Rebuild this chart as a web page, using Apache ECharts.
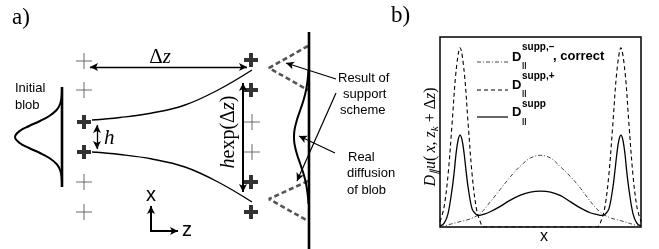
<!DOCTYPE html>
<html><head><meta charset="utf-8">
<script src="https://cdn.jsdelivr.net/npm/echarts@6/dist/echarts.min.js"></script>
<style>html,body{margin:0;padding:0;background:#fff}#c{width:659px;height:249px}</style>
</head><body><div id="c"></div>
<script>
// ---------- Panel b data (x normalised 0..1, y in units of the D_supp,+ peak) ----------
const xDashDot = [0,0.05,0.10,0.15,0.20,0.25,0.30,0.35,0.40,0.45,0.50,0.55,0.60,0.65,0.70,0.75,0.80,0.85,0.90,0.95,1.00];
const yDashDot = [0,0.015,0.03,0.045,0.075,0.14,0.21,0.28,0.34,0.385,0.40,0.385,0.335,0.28,0.215,0.14,0.08,0.05,0.035,0.018,0];
const xDashed = [0,0.02,0.04,0.06,0.08,0.10,0.12,0.14,0.16,0.18,0.20,0.22,0.78,0.80,0.82,0.84,0.86,0.88,0.90,0.92,0.94,0.96,0.98,1.00];
const yDashed = [0.03,0.11,0.29,0.575,0.87,1.0,0.87,0.575,0.29,0.11,0.03,0,0,0.03,0.11,0.29,0.575,0.87,1.0,0.87,0.575,0.29,0.11,0.03];
const xSolid = [0,0.02,0.04,0.06,0.07,0.08,0.09,0.10,0.11,0.12,0.13,0.14,0.16,0.18,0.195,0.22,0.25,0.30,0.35,0.40,0.45,0.50,0.55,0.60,0.65,0.70,0.75,0.78,0.805,0.82,0.84,0.86,0.87,0.88,0.89,0.90,0.91,0.92,0.93,0.94,0.96,0.98,1.00];
const ySolid = [0.005,0.02,0.075,0.21,0.30,0.41,0.485,0.513,0.485,0.41,0.31,0.22,0.10,0.07,0.065,0.072,0.085,0.115,0.15,0.178,0.195,0.20,0.195,0.175,0.14,0.105,0.078,0.07,0.065,0.07,0.10,0.22,0.31,0.41,0.485,0.513,0.485,0.41,0.30,0.21,0.075,0.02,0.005];
const legendSup = ['supp,\u2212','supp,+','supp'];
const legendTail = [', correct','',''];

// ---------- Panel a schematic (coordinates in schematic units) ----------
const thinPlus = [[84,61],[84,90],[84,182],[84,212],[252,122],[252,152]];
const thickPlus = [[84,122],[84,152],[251,60],[251,90],[251,182],[251,212]];
const upperPath = [[92,120],[120,117.5],[152,113],[185,105],[218,90],[252,70]];
const lowerPath = [[92,152],[120,154.5],[152,159],[185,167],[218,182],[252,202]];
const blobCurve = [[62,88],[61.7,96],[60.1,104],[56.6,110],[49.3,116],[40,121],[29.1,126],[19.7,131],[15,137],[19.7,143],[29.1,148],[40,153],[49.3,158],[56.6,164],[60.1,170],[61.7,178],[62,186]];
const blobBase = [[62,87],[62,187]];
const supportUpper = [[308,46],[269,68],[308,90]];
const supportLower = [[308,181],[269,199],[308,221]];
const realDiffusion = [[308.5,70],[307.6,80],[306.1,90],[303.6,100],[300.3,110],[296.9,120],[294.5,130],[294,137],[294.5,144],[296.9,154],[300.3,164],[303.6,174],[306.1,184],[307.6,194],[308.5,204]];
const screenLine = [[309,32],[309,249]];
const arrows = [
  {from:[90,67], to:[247,67], a:true, b:true, w:1.4},
  {from:[97,125], to:[97,149], a:true, b:true, w:1.3},
  {from:[243,83], to:[243,192], a:true, b:true, w:2},
  {from:[151,231], to:[151,206], a:false, b:true, w:2},
  {from:[150,231], to:[178,231], a:false, b:true, w:2},
  {from:[336,79], to:[286,63], a:false, b:true, w:1.2},
  {from:[336,93], to:[297,181], a:false, b:true, w:1.2},
  {from:[335,153], to:[299,136], a:false, b:true, w:1.2}
];

const SERIF = 'Liberation Serif';
const SANS = 'Liberation Sans';
const zip = (xs, ys) => xs.map((x, i) => [x, ys[i]]);

function txt(x, y, text, o) {
  o = o || {};
  return {type:'text', x:x, y:y, rotation:o.rot || 0, z:100, style:{
    text:text, fontSize:o.size || 13, fontFamily:o.family || SANS,
    fontWeight:o.weight || 'normal', fontStyle:o.style || 'normal',
    fill:'#000', align:o.align || 'left', verticalAlign:'middle', rich:o.rich}};
}
function hline(x1, x2, y, dash, color, w) {
  return {type:'line', z:100, shape:{x1:x1, y1:y, x2:x2, y2:y},
    style:{stroke:color, lineWidth:w, lineDash:dash}};
}

const graphics = [
  txt(12, 18, 'a)', {size:23, family:SERIF}),
  txt(391, 16, 'b)', {size:23, family:SERIF}),
  txt(160, 57, '\u0394{i|z}', {size:21, family:SERIF, align:'center',
    rich:{i:{fontStyle:'italic', fontSize:21, fontFamily:SERIF}}}),
  txt(104, 138, 'h', {size:21, family:SERIF, style:'italic'}),
  txt(229, 132, '{i|h}exp(\u0394{i|z})', {size:20, family:SERIF, align:'center', rot:Math.PI/2,
    rich:{i:{fontStyle:'italic', fontSize:20, fontFamily:SERIF}}}),
  txt(15, 88, 'Initial'), txt(15, 105, 'blob'),
  txt(151, 195, 'x', {size:20, align:'center'}),
  txt(182, 230, 'z', {size:20}),
  txt(338, 78, 'Result of'), txt(343, 94, 'support'), txt(340, 110, 'scheme'),
  txt(348, 157, 'Real'), txt(347, 173, 'diffusion'), txt(347, 190, 'of blob'),
  txt(431, 137, '{i|D}{s|\u2225}{i|u}(\u2009{i|x}, {i|z}{s|k} + \u0394{i|z})', {size:16, family:SERIF, align:'center', rot:Math.PI/2,
    rich:{i:{fontStyle:'italic', fontSize:16, fontFamily:SERIF, verticalAlign:'middle'},
          s:{fontStyle:'italic', fontSize:11, fontFamily:SERIF, verticalAlign:'middle', padding:[8,0,0,0]}}}),
  txt(544, 237, 'x', {size:16, align:'center'}),
  hline(477, 508, 62, [4,2,1,2], '#444', 1),
  hline(477, 508, 90, [4,3], '#000', 1.1),
  hline(477, 508, 117, null, '#000', 1.2)
];
const dY = [57, 85, 112], supY = [47, 76, 104], subY = [65, 93, 121];
for (let i = 0; i < 3; i++) {
  graphics.push(txt(512, dY[i], 'D', {weight:'bold', size:13}));
  graphics.push(txt(522, supY[i], legendSup[i], {weight:'bold', size:10}));
  graphics.push(txt(522, subY[i], '||', {weight:'bold', size:8}));
  if (legendTail[i]) graphics.push(txt(553, dY[i] - 1, legendTail[i], {weight:'bold', size:13}));
}

const thinPlusPath = 'path://M0,7.5H16V8.5H0Z M7.5,0H8.5V16H7.5Z';
const thickPlusPath = 'path://M0,5H14V9H0Z M5,0H9V14H5Z';

function schem(data, style, smooth) {
  return {type:'line', xAxisIndex:1, yAxisIndex:1, data:data, symbol:'none', smooth:smooth || false,
    lineStyle:style, silent:true, animation:false, z:3};
}

const chart = echarts.init(document.getElementById('c'), null, {renderer:'canvas'});
chart.setOption({
  animation:false,
  backgroundColor:'#fff',
  grid:[
    {left:440, top:37, width:201, height:190, show:true, borderColor:'#000', borderWidth:1.5, backgroundColor:'transparent'},
    {left:0, top:0, width:360, height:249, show:false}
  ],
  xAxis:[
    {type:'value', gridIndex:0, min:0, max:1, show:false},
    {type:'value', gridIndex:1, min:0, max:360, show:false}
  ],
  yAxis:[
    {type:'value', gridIndex:0, min:0, max:1.06, show:false},
    {type:'value', gridIndex:1, min:0, max:249, inverse:true, show:false}
  ],
  graphic:graphics,
  series:[
    {name:'D supp,\u2212 correct', type:'line', data:zip(xDashDot, yDashDot), symbol:'none', smooth:0.35,
      lineStyle:{color:'#444', width:1, type:[4,2,1,2]}},
    {name:'D supp,+', type:'line', data:zip(xDashed, yDashed), symbol:'none', smooth:0.35,
      lineStyle:{color:'#000', width:1.1, type:[4,3]}},
    {name:'D supp', type:'line', data:zip(xSolid, ySolid), symbol:'none', smooth:0.35,
      lineStyle:{color:'#000', width:1.3}},
    {type:'scatter', xAxisIndex:1, yAxisIndex:1, data:thinPlus, symbol:thinPlusPath, symbolSize:16,
      itemStyle:{color:'#444'}, silent:true},
    {type:'scatter', xAxisIndex:1, yAxisIndex:1, data:thickPlus, symbol:thickPlusPath, symbolSize:14,
      itemStyle:{color:'#000'}, silent:true},
    schem(upperPath, {color:'#000', width:1.4}, 0.4),
    schem(lowerPath, {color:'#000', width:1.4}, 0.4),
    schem(blobCurve, {color:'#000', width:2}, 0.4),
    schem(blobBase, {color:'#000', width:2.6}),
    schem(supportUpper, {color:'#555', width:2.6, type:[5,3]}),
    schem(supportLower, {color:'#555', width:2.6, type:[5,3]}),
    schem(realDiffusion, {color:'#000', width:2}, 0.4),
    Object.assign(schem(screenLine, {color:'#000', width:2.6}), {
      markLine:{silent:true, animation:false, label:{show:false}, emphasis:{disabled:true},
        lineStyle:{color:'#000', type:'solid'},
        data:arrows.map(a => [
          {coord:a.from, symbol:a.a ? 'arrow' : 'none', symbolSize:[6,8], lineStyle:{width:a.w, color:'#000', type:'solid'}},
          {coord:a.to, symbol:a.b ? 'arrow' : 'none', symbolSize:[6,8], lineStyle:{width:a.w, color:'#000', type:'solid'}}
        ])}
    })
  ]
});
</script></body></html>
